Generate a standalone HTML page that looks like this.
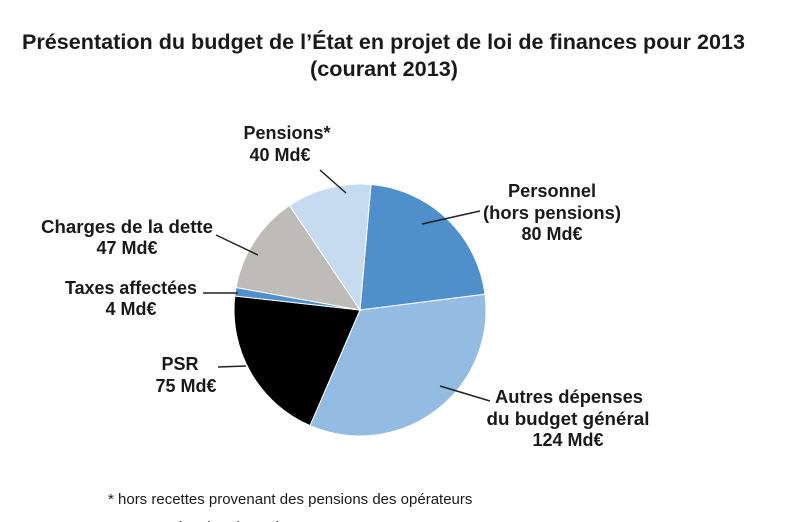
<!DOCTYPE html>
<html><head><meta charset="utf-8">
<style>
html,body{margin:0;padding:0;background:#fff;overflow:hidden;}
svg{display:block;}
text{font-family:"Liberation Sans",Arial,sans-serif;fill:#1a1a1a;}
.b{font-weight:bold;font-size:18px;}
</style></head>
<body>
<svg width="800" height="522" viewBox="0 0 800 522" xmlns="http://www.w3.org/2000/svg">
<text x="22" y="49" font-size="21" font-weight="bold" textLength="723" lengthAdjust="spacingAndGlyphs">Présentation du budget de l’État en projet de loi de finances pour 2013</text>
<text x="310" y="76" font-size="21" font-weight="bold" textLength="148" lengthAdjust="spacingAndGlyphs">(courant 2013)</text>

<g stroke="#fff" stroke-width="1">
<path d="M360 310 L371.0 184.5 A126 126 0 0 1 485.0 294.2 Z" fill="#4f8fcc"/>
<path d="M360 310 L485.0 294.2 A126 126 0 0 1 310.0 425.6 Z" fill="#94bbe1"/>
<path d="M360 310 L310.0 425.6 A126 126 0 0 1 234.8 296.0 Z" fill="#000"/>
<path d="M360 310 L234.8 296.0 A126 126 0 0 1 236.0 287.5 Z" fill="#4f8fcc"/>
<path d="M360 310 L236.0 287.5 A126 126 0 0 1 289.5 205.5 Z" fill="#bdbcb9"/>
<path d="M360 310 L289.5 205.5 A126 126 0 0 1 371.0 184.5 Z" fill="#c6dbef"/>
</g>

<g stroke="#222" stroke-width="1.5">
<line x1="320" y1="170" x2="346" y2="193"/>
<line x1="422" y1="224" x2="480" y2="211"/>
<line x1="216" y1="235" x2="258" y2="255"/>
<line x1="203" y1="293" x2="238" y2="293"/>
<line x1="218" y1="367" x2="246" y2="366"/>
<line x1="440" y1="386" x2="490" y2="401"/>
</g>

<text class="b" x="287" y="139" text-anchor="middle">Pensions*</text>
<text class="b" x="280" y="161" text-anchor="middle">40 Md€</text>

<text class="b" x="552" y="197" text-anchor="middle" textLength="88" lengthAdjust="spacingAndGlyphs">Personnel</text>
<text class="b" x="552" y="219" text-anchor="middle" textLength="138" lengthAdjust="spacingAndGlyphs">(hors pensions)</text>
<text class="b" x="552" y="240" text-anchor="middle">80 Md€</text>

<text class="b" x="127" y="233" text-anchor="middle" textLength="172" lengthAdjust="spacingAndGlyphs">Charges de la dette</text>
<text class="b" x="127" y="254" text-anchor="middle">47 Md€</text>

<text class="b" x="131" y="294" text-anchor="middle" textLength="132" lengthAdjust="spacingAndGlyphs">Taxes affectées</text>
<text class="b" x="131" y="315" text-anchor="middle">4 Md€</text>

<text class="b" x="180" y="370" text-anchor="middle">PSR</text>
<text class="b" x="186" y="392" text-anchor="middle">75 Md€</text>

<text class="b" x="569" y="403" text-anchor="middle" textLength="148" lengthAdjust="spacingAndGlyphs">Autres dépenses</text>
<text class="b" x="568" y="425" text-anchor="middle" textLength="163" lengthAdjust="spacingAndGlyphs">du budget général</text>
<text class="b" x="568" y="446" text-anchor="middle">124 Md€</text>

<text x="108" y="504" font-size="15">* hors recettes provenant des pensions des opérateurs</text>
<text x="108" y="532" font-size="15">Source : Direction du Budget</text>
</svg>
</body></html>
